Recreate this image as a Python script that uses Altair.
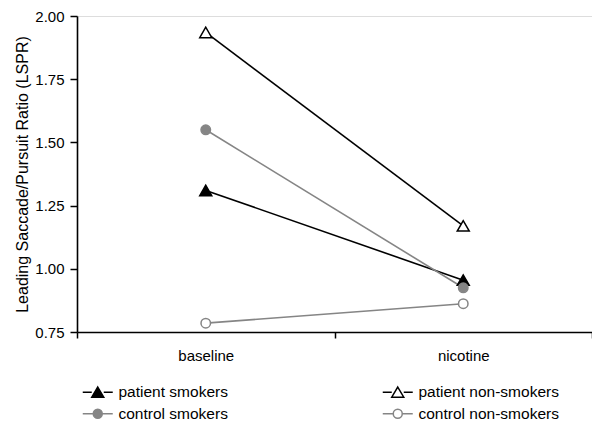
import altair as alt
import pandas as pd

groups = ["patient smokers", "patient non-smokers", "control smokers", "control non-smokers"]
conditions = ["baseline", "nicotine"]
baseline_vals = [1.31, 1.935, 1.55, 0.785]
nicotine_vals = [0.955, 1.17, 0.925, 0.862]
stroke_colors = ["#000000", "#000000", "#858585", "#858585"]
fill_colors = ["#000000", "#ffffff", "#858585", "#ffffff"]
shapes = ["triangle-up", "triangle-up", "circle", "circle"]
y_ticks = [0.75, 1.00, 1.25, 1.50, 1.75, 2.00]

rows = []
for g, b, n in zip(groups, baseline_vals, nicotine_vals):
    rows.append({"group": g, "line": g, "lg": g, "condition": conditions[0], "lspr": b})
    rows.append({"group": g, "line": g, "lg": g, "condition": conditions[1], "lspr": n})
df = pd.DataFrame(rows)

FONT = "Liberation Sans"

# legend symbols: a short line with the marker on it
tri = "M-2.5,0H-1M1,0H2.5M0,-0.85L1,0.85L-1,0.85Z"
circ = "M-2.5,0H-0.75M0.75,0H2.5M0.75,0A0.75,0.75,0,1,1,-0.75,0A0.75,0.75,0,1,1,0.75,0Z"
legend_shapes = [tri, tri, circ, circ]

leg = alt.Legend(
    title=None,
    orient="none",
    direction="horizontal",
    legendX=13,
    legendY=368,
    columns=2,
    columnPadding=151,
    rowPadding=5,
    padding=0,
    symbolSize=144,
    symbolStrokeWidth=1.5,
    labelOffset=13,
    labelFontSize=15.5,
    labelFont=FONT,
    labelColor="#000000",
    labelLimit=300,
)

x_enc = alt.X(
    "condition:N",
    sort=conditions,
    scale=alt.Scale(type="band", domain=conditions, paddingInner=0, paddingOuter=0),
    axis=alt.Axis(
        title=None,
        labelAngle=0,
        tickBand="extent",
        labelFontSize=15,
        labelFont=FONT,
        labelColor="#000000",
        labelPadding=10,
        tickSize=6,
        tickColor="#000000",
        tickWidth=1.5,
        domainColor="#000000",
        domainWidth=1.6,
        grid=False,
    ),
)
y_enc = alt.Y(
    "lspr:Q",
    scale=alt.Scale(domain=[0.75, 2.0], nice=False, zero=False),
    axis=alt.Axis(
        title="Leading Saccade/Pursuit Ratio (LSPR)",
        values=y_ticks,
        format=".2f",
        labelFontSize=15,
        labelFont=FONT,
        labelColor="#000000",
        labelPadding=6,
        tickSize=7,
        tickColor="#000000",
        tickWidth=1.5,
        domainColor="#000000",
        domainWidth=1.6,
        titleFont=FONT,
        titleFontSize=16,
        titleFontWeight="normal",
        titleColor="#000000",
        titlePadding=4,
        grid=False,
    ),
)

lines = alt.Chart(df).mark_line(strokeWidth=1.6).encode(
    x=x_enc,
    y=y_enc,
    stroke=alt.Stroke("line:N", scale=alt.Scale(domain=groups, range=stroke_colors), legend=None),
)

points = alt.Chart(df).mark_point(filled=False, opacity=1, strokeWidth=1.5).encode(
    x=x_enc,
    y=y_enc,
    shape=alt.Shape("group:N", scale=alt.Scale(domain=groups, range=shapes), legend=None),
    stroke=alt.Stroke("group:N", scale=alt.Scale(domain=groups, range=stroke_colors), legend=None),
    fill=alt.Fill("group:N", scale=alt.Scale(domain=groups, range=fill_colors), legend=None),
    size=alt.condition("indexof(datum.group, 'patient') == 0", alt.value(144), alt.value(90)),
)

# legend-only layer (draws no marks; its scales carry the legend)
legend_layer = alt.Chart(df).transform_filter("false").mark_point(filled=False, opacity=1, strokeWidth=1.5).encode(
    x=x_enc,
    y=y_enc,
    shape=alt.Shape("lg:N", scale=alt.Scale(domain=groups, range=legend_shapes), legend=leg),
    stroke=alt.Stroke("lg:N", scale=alt.Scale(domain=groups, range=stroke_colors), legend=leg),
    fill=alt.Fill("lg:N", scale=alt.Scale(domain=groups, range=fill_colors), legend=leg),
)

chart = (
    alt.layer(lines, points, legend_layer)
    .resolve_scale(shape="independent", stroke="independent", fill="independent")
    .properties(
        width=515,
        height=316,
        autosize=alt.AutoSizeParams(type="none"),
        padding={"left": 69, "top": 8, "right": 0, "bottom": 90},
    )
    .configure_view(stroke=None)
    .configure(background="#ffffff")
)

chart.save("out.html", embed_options={"renderer": "svg", "actions": False})
